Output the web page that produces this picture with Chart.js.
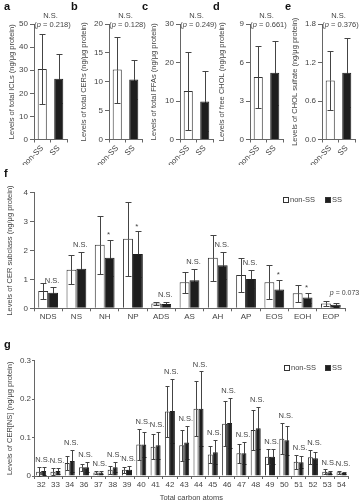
<!DOCTYPE html>
<html>
<head>
<meta charset="utf-8">
<script src="https://cdn.jsdelivr.net/npm/chart.js@4.4.1/dist/chart.umd.min.js"></script>
<style>
  html, body {
    margin: 0;
    padding: 0;
    background: #ffffff;
  }

  #figure {
    position: relative;
    width: 359px;
    height: 500px;
    overflow: hidden;
    background: #ffffff;
    font-family: "Liberation Sans", Arial, sans-serif;
  }

  #figure canvas {
    position: absolute;
  }

  .panel-letter {
    position: absolute;
    font-size: 11px;
    line-height: 11px;
    font-weight: bold;
    color: #111111;
  }

  .legend-item {
    position: absolute;
    font-size: 7.5px;
    line-height: 8px;
    color: #444444;
    white-space: nowrap;
  }

  .legend-box {
    position: absolute;
    width: 4px;
    height: 4px;
    border: 1px solid #333333;
  }
</style>
</head>
<body>
<div id="figure">
  <canvas id="chartA"></canvas>
  <canvas id="chartB"></canvas>
  <canvas id="chartC"></canvas>
  <canvas id="chartD"></canvas>
  <canvas id="chartE"></canvas>
  <canvas id="chartF"></canvas>
  <canvas id="chartG"></canvas>

  <div class="panel-letter" style="left:4px;top:1px">a</div>
  <div class="panel-letter" style="left:71px;top:1px">b</div>
  <div class="panel-letter" style="left:142px;top:1px">c</div>
  <div class="panel-letter" style="left:213px;top:1px">d</div>
  <div class="panel-letter" style="left:285px;top:1px">e</div>
  <div class="panel-letter" style="left:4px;top:168px">f</div>
  <div class="panel-letter" style="left:4px;top:339px">g</div>

  <div class="legend-box" style="left:283px;top:197px;background:#ffffff"></div>
  <div class="legend-item" style="left:290px;top:196px">non-SS</div>
  <div class="legend-box" style="left:325px;top:197px;background:#1e1e1e"></div>
  <div class="legend-item" style="left:332px;top:196px">SS</div>

  <div class="legend-box" style="left:284px;top:365px;background:#ffffff"></div>
  <div class="legend-item" style="left:291px;top:364px">non-SS</div>
  <div class="legend-box" style="left:325px;top:365px;background:#1e1e1e"></div>
  <div class="legend-item" style="left:332px;top:364px">SS</div>
</div>

<script>
// groups of panels a-e
const groups = ["non-SS", "SS"];

// a: total ICLs
const iclMean = [30.5, 26.3];
const iclSd = [15.1, 10.5];
const iclTicks = ["0", "10", "20", "30", "40", "50"];

// b: total CERs
const cerMean = [12.1, 10.4];
const cerSd = [5.7, 3.4];
const cerTicks = ["0", "5", "10", "15", "20"];

// c: total FFAs
const ffaMean = [12.6, 9.9];
const ffaSd = [10.2, 7.8];
const ffaTicks = ["0", "10", "20", "30"];

// d: free CHOL
const cholMean = [4.87, 5.2];
const cholSd = [2.4, 2.5];
const cholTicks = ["0", "3", "6", "9"];

// e: CHOL sulfate
const sulfateMean = [0.92, 1.04];
const sulfateSd = [0.46, 0.54];
const sulfateTicks = ["0.0", "0.6", "1.2", "1.8"];

// f: CER subclasses
const subclasses = ["NDS", "NS", "NH", "NP", "ADS", "AS", "AH", "AP", "EOS", "EOH", "EOP"];
const subclassNonSS = [0.6, 1.33, 2.2, 2.41, 0.17, 0.9, 1.75, 1.15, 0.9, 0.52, 0.17];
const subclassNonSSSd = [0.28, 0.5, 1.01, 1.28, 0.06, 0.36, 0.8, 0.58, 0.59, 0.29, 0.08];
const subclassSS = [0.54, 1.37, 1.75, 1.88, 0.15, 0.97, 1.49, 1.01, 0.65, 0.37, 0.12];
const subclassSSSd = [0.18, 0.57, 0.63, 0.78, 0.07, 0.4, 0.46, 0.31, 0.33, 0.17, 0.06];
const subclassMarks = ["N.S.", "N.S.", "*", "*", "N.S.", "N.S.", "N.S.", "N.S.", "*", "*", "p = 0.073"];
const subclassTicks = ["0", "1", "2", "3", "4"];

// g: CER[NS] by total carbon atoms
const carbonAtoms = ["32", "33", "34", "36", "37", "38", "39", "40", "41", "42", "43",
  "44", "45", "46", "47", "48", "49", "50", "51", "52", "53", "54"];
const nsNonSS = [0.011, 0.011, 0.034, 0.023, 0.009, 0.016, 0.016, 0.082, 0.076, 0.168, 0.08,
  0.175, 0.056, 0.136, 0.059, 0.12, 0.05, 0.097, 0.037, 0.049, 0.011, 0.01];
const nsNonSSSd = [0.013, 0.009, 0.019, 0.009, 0.004, 0.011, 0.008, 0.04, 0.033, 0.066, 0.04,
  0.072, 0.023, 0.059, 0.025, 0.052, 0.02, 0.04, 0.018, 0.019, 0.006, 0.004];
const nsSS = [0.013, 0.013, 0.039, 0.023, 0.009, 0.023, 0.016, 0.082, 0.08, 0.169, 0.087,
  0.175, 0.062, 0.138, 0.059, 0.124, 0.05, 0.093, 0.036, 0.046, 0.01, 0.008];
const nsSSSd = [0.01, 0.009, 0.029, 0.013, 0.003, 0.013, 0.009, 0.033, 0.035, 0.083, 0.042,
  0.097, 0.032, 0.064, 0.029, 0.055, 0.02, 0.038, 0.016, 0.016, 0.004, 0.003];
const nsTicks = ["0", "0.1", "0.2", "0.3"];

const TEXT = "#444444";
const AXIS = "#666666";
const WHISKER = "#444444";
const OPEN = "#ffffff";
const FILLED = "#1e1e1e";
const FAMILY = "\"Liberation Sans\", Arial, sans-serif";

function drawLabel(ctx, text, x, y, align, size) {
  const normal = size + "px " + FAMILY;
  const split = text.indexOf("p =");

  if (split < 0) {
    ctx.font = normal;
    ctx.textAlign = align;
    ctx.fillText(text, x, y);
    return;
  }

  const parts = [
    [text.slice(0, split), normal],
    ["p", "italic " + normal],
    [text.slice(split + 1), normal]
  ];
  const widths = parts.map(([part, font]) => {
    ctx.font = font;
    return ctx.measureText(part).width;
  });
  const total = widths.reduce((a, b) => a + b, 0);
  let cursor = align === "center" ? x - total / 2 : x;

  ctx.textAlign = "left";
  parts.forEach(([part, font], index) => {
    ctx.font = font;
    ctx.fillText(part, cursor, y);
    cursor += widths[index];
  });
}

function barColor(dataset, index) {
  const color = dataset.backgroundColor;
  return Array.isArray(color) ? color[index] : color;
}

const errorBars = {
  id: "errorBars",
  afterDatasetsDraw(chart, args, options) {
    const ctx = chart.ctx;
    const yScale = chart.scales.y;

    ctx.save();
    ctx.lineWidth = 1;

    chart.data.datasets.forEach((dataset, datasetIndex) => {
      chart.getDatasetMeta(datasetIndex).data.forEach((bar, index) => {
        const mean = dataset.data[index];
        const sd = dataset.sd[index];
        const x = Math.round(bar.x) + 0.5;
        const middle = Math.round(yScale.getPixelForValue(mean)) + 0.5;
        const top = Math.round(yScale.getPixelForValue(mean + sd)) + 0.5;
        const bottom = Math.round(yScale.getPixelForValue(Math.max(mean - sd, 0))) + 0.5;

        // upper whisker
        ctx.strokeStyle = WHISKER;
        ctx.beginPath();
        ctx.moveTo(x, top);
        ctx.lineTo(x, middle);
        ctx.moveTo(x - options.cap, top);
        ctx.lineTo(x + options.cap, top);
        ctx.stroke();

        // lower whisker, lost inside the filled bars
        ctx.strokeStyle = barColor(dataset, index) === OPEN ? WHISKER : FILLED;
        ctx.beginPath();
        ctx.moveTo(x, middle);
        ctx.lineTo(x, bottom);
        ctx.moveTo(x - options.cap, bottom);
        ctx.lineTo(x + options.cap, bottom);
        ctx.stroke();
      });
    });

    ctx.restore();
  }
};

const significance = {
  id: "significance",
  afterDatasetsDraw(chart, args, options) {
    if (!options.texts) {
      return;
    }

    const ctx = chart.ctx;
    const yScale = chart.scales.y;

    ctx.save();
    ctx.fillStyle = TEXT;
    ctx.textBaseline = "middle";

    if (options.mode === "panel") {
      const center = (chart.chartArea.left + chart.chartArea.right) / 2;
      drawLabel(ctx, options.texts[0], center, 15.5, "center", 7.5);
      drawLabel(ctx, options.texts[1], center + 2, 24.5, "center", 7.5);
      ctx.restore();
      return;
    }

    const first = chart.data.datasets[0];
    const second = chart.data.datasets[1];
    const bars = chart.getDatasetMeta(1).data;

    options.texts.forEach((text, index) => {
      const topSecond = second.data[index] + second.sd[index];
      const topFirst = first.data[index] + first.sd[index];
      const top = options.mode === "max" ? Math.max(topFirst, topSecond) : topSecond;
      const y = yScale.getPixelForValue(top);

      if (text.startsWith("p")) {
        drawLabel(ctx, text, bars[index].x - 6, y - 10, "left", 7);
      } else if (text === "*") {
        drawLabel(ctx, text, bars[index].x - 1, y - 5, "center", 8);
      } else {
        drawLabel(ctx, text, bars[index].x - 1, y - 7, "center", 7.5);
      }
    });

    ctx.restore();
  }
};

function makeChart(id, box, setup) {
  const canvas = document.getElementById(id);
  canvas.width = box.w;
  canvas.height = box.h;
  canvas.style.left = box.x + "px";
  canvas.style.top = box.y + "px";

  const tickValues = setup.ticks.map(Number);

  return new Chart(canvas, {
    type: "bar",
    data: {
      labels: setup.labels,
      datasets: setup.datasets
    },
    options: {
      responsive: false,
      animation: false,
      events: [],
      layout: {
        padding: { top: setup.padTop, right: setup.padRight, left: 0, bottom: 0 }
      },
      plugins: {
        legend: { display: false },
        tooltip: { enabled: false },
        errorBars: { cap: setup.cap },
        significance: { texts: setup.marks, mode: setup.markMode }
      },
      scales: {
        x: {
          grid: {
            drawOnChartArea: false,
            tickLength: 3,
            color: AXIS
          },
          border: { color: AXIS },
          ticks: {
            color: TEXT,
            font: { family: FAMILY, size: 8 },
            padding: 1,
            autoSkip: false,
            minRotation: setup.rotation,
            maxRotation: setup.rotation
          },
          title: {
            display: Boolean(setup.xTitle),
            text: setup.xTitle,
            color: TEXT,
            font: { family: FAMILY, size: 7.5 },
            padding: { top: 0, bottom: 0 }
          },
          afterFit: (scale) => {
            scale.height = setup.xHeight;
          }
        },
        y: {
          min: tickValues[0],
          max: tickValues[tickValues.length - 1],
          grid: {
            drawOnChartArea: false,
            tickLength: setup.yTick,
            color: AXIS
          },
          border: { color: AXIS },
          ticks: {
            color: TEXT,
            font: { family: FAMILY, size: 8 },
            padding: setup.yTick === 2 ? 1 : 2,
            callback: (value, index) => setup.ticks[index]
          },
          title: {
            display: true,
            text: setup.yTitle,
            color: TEXT,
            font: { family: FAMILY, size: 7.5 },
            padding: { top: setup.titlePad, bottom: 0 }
          },
          afterBuildTicks: (scale) => {
            scale.ticks = tickValues.map((value) => ({ value }));
          },
          afterFit: (scale) => {
            scale.width = setup.yWidth;
          }
        }
      }
    },
    plugins: [errorBars, significance]
  });
}

function groupPanel(id, axisX, titleX, means, sds, ticks, title, pText) {
  const left = titleX - 8;

  makeChart(id, { x: left, y: 0, w: axisX + 43 - left, h: 165 }, {
    labels: groups,
    datasets: [
      {
        data: means,
        sd: sds,
        backgroundColor: [OPEN, FILLED],
        borderColor: ["#333333", FILLED],
        borderWidth: 1,
        barPercentage: 0.55,
        categoryPercentage: 1
      }
    ],
    ticks,
    yTitle: title,
    yWidth: axisX - left,
    titlePad: 3.5,
    yTick: 4,
    padTop: 24,
    padRight: 10,
    xHeight: 25.5,
    rotation: 45,
    cap: 3,
    marks: ["N.S.", pText],
    markMode: "panel"
  });
}

groupPanel("chartA", 34, 12, iclMean, iclSd, iclTicks,
  "Levels of total ICLs (ng/\u03bcg protein)", "(p = 0.218)");
groupPanel("chartB", 109, 84, cerMean, cerSd, cerTicks,
  "Levels of total CERs (ng/\u03bcg protein)", "(p = 0.128)");
groupPanel("chartC", 180, 154, ffaMean, ffaSd, ffaTicks,
  "Levels of total FFAs (ng/\u03bcg protein)", "(p = 0.249)");
groupPanel("chartD", 250, 222, cholMean, cholSd, cholTicks,
  "Levels of free CHOL (ng/\u03bcg protein)", "(p = 0.661)");
groupPanel("chartE", 322, 295, sulfateMean, sulfateSd, sulfateTicks,
  "Levels of CHOL sulfate (ng/\u03bcg protein)", "(p = 0.376)");

function pairedDatasets(open, openSd, filled, filledSd) {
  return [
    {
      label: "non-SS",
      data: open,
      sd: openSd,
      backgroundColor: OPEN,
      borderColor: "#333333",
      borderWidth: 1,
      barPercentage: 1,
      categoryPercentage: 0.7
    },
    {
      label: "SS",
      data: filled,
      sd: filledSd,
      backgroundColor: FILLED,
      borderColor: FILLED,
      borderWidth: 1,
      barPercentage: 1,
      categoryPercentage: 0.7
    }
  ];
}

makeChart("chartF", { x: 0, y: 160, w: 359, h: 162 }, {
  labels: subclasses,
  datasets: pairedDatasets(subclassNonSS, subclassNonSSSd, subclassSS, subclassSSSd),
  ticks: subclassTicks,
  yTitle: "Levels of CER subclass (ng/\u03bcg protein)",
  yWidth: 34,
  titlePad: 5.8,
  yTick: 4,
  padTop: 32.7,
  padRight: 14,
  xHeight: 13.7,
  rotation: 0,
  cap: 3,
  marks: subclassMarks,
  markMode: "second"
});

makeChart("chartG", { x: 0, y: 330, w: 359, h: 172 }, {
  labels: carbonAtoms,
  datasets: pairedDatasets(nsNonSS, nsNonSSSd, nsSS, nsSSSd),
  ticks: nsTicks,
  yTitle: "Levels of CER[NS] (ng/\u03bcg protein)",
  xTitle: "Total carbon atoms",
  yWidth: 34,
  titlePad: 5.8,
  yTick: 2,
  padTop: 30.7,
  padRight: 10.3,
  xHeight: 26,
  rotation: 0,
  cap: 2,
  marks: carbonAtoms.map(() => "N.S."),
  markMode: "max"
});
</script>
</body>
</html>
